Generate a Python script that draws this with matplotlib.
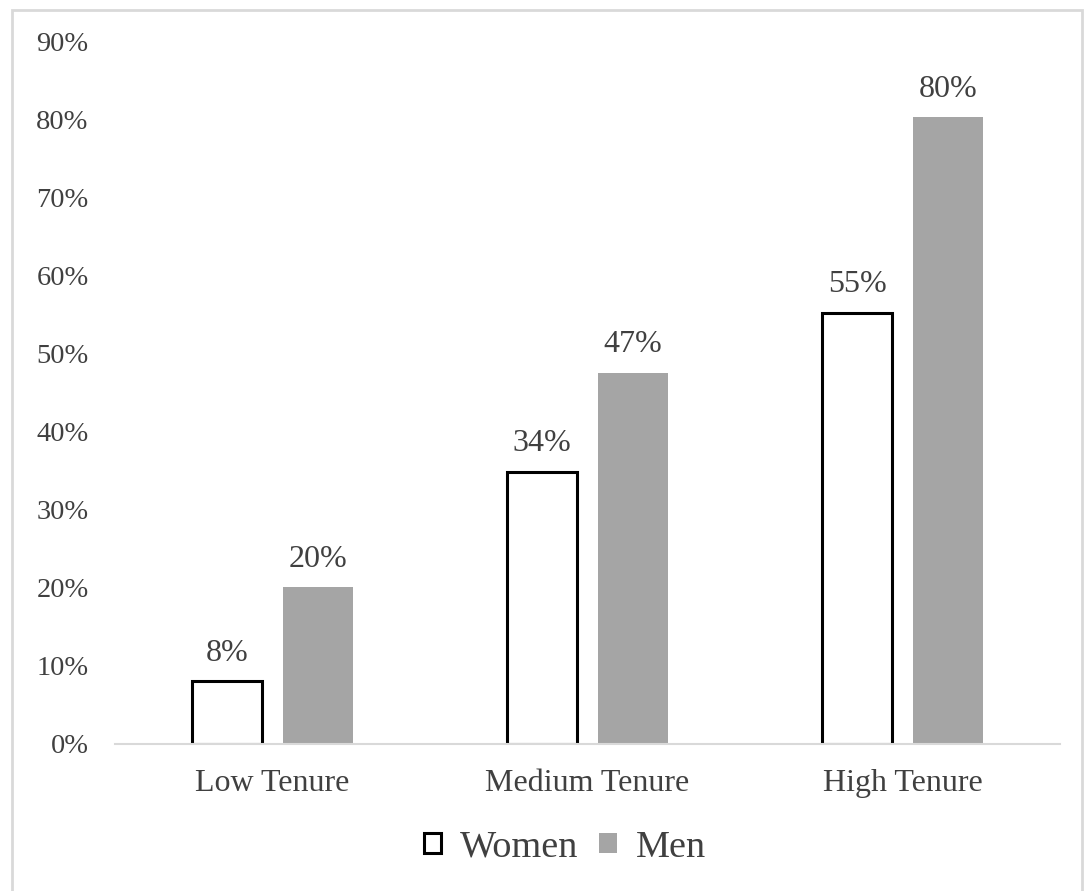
import matplotlib.pyplot as plt
import numpy as np
from matplotlib.patches import Rectangle

categories = ['Low Tenure', 'Medium Tenure', 'High Tenure']
women = [8.1, 34.9, 55.3]
men = [20.1, 47.6, 80.4]
women_labels = ['8%', '34%', '55%']
men_labels = ['20%', '47%', '80%']

plt.rcParams['font.family'] = ['Liberation Serif', 'DejaVu Serif']
txt = '#404040'

fig = plt.figure(figsize=(10.86, 8.91), dpi=100)
ax = fig.add_axes([0.106, 0.165, 0.870, 0.788])

x = np.arange(len(categories))
w = 0.222
off = 0.144
ax.bar(x - off, women, w, facecolor='white', edgecolor='black', linewidth=2.2, label='Women')
ax.bar(x + off, men, w, facecolor='#a5a5a5', edgecolor='none', label='Men')

for xi, v, s in zip(x - off, women, women_labels):
    ax.text(xi, v + 1.7, s, ha='center', va='bottom', fontsize=23, color=txt)
for xi, v, s in zip(x + off, men, men_labels):
    ax.text(xi, v + 1.7, s, ha='center', va='bottom', fontsize=23, color=txt)

ax.set_xlim(-0.5, 2.5)
ax.set_ylim(0, 90)
ax.set_yticks(range(0, 91, 10))
ax.set_yticklabels([f'{t}%' for t in range(0, 91, 10)], fontsize=20.5, color=txt)
ax.set_xticks(x)
ax.set_xticklabels(categories, fontsize=23, color=txt)
ax.tick_params(axis='both', length=0)
ax.tick_params(axis='y', pad=19)
ax.tick_params(axis='x', pad=18)
for s in ['top', 'right', 'left']:
    ax.spines[s].set_visible(False)
ax.spines['bottom'].set_color('#d9d9d9')
ax.spines['bottom'].set_linewidth(1.5)

leg = fig.legend(loc='center', bbox_to_anchor=(0.52, 0.049), ncol=2, frameon=False,
                 fontsize=27.5, handlelength=0.45, handleheight=0.45, columnspacing=0.55,
                 handletextpad=0.5)
for t in leg.get_texts():
    t.set_color(txt)

fig.patches.append(Rectangle((0.011, -0.05), 0.985, 1.039, transform=fig.transFigure,
                             fill=False, edgecolor='#d9d9d9', linewidth=2))

fig.savefig('out.png', dpi=100)
